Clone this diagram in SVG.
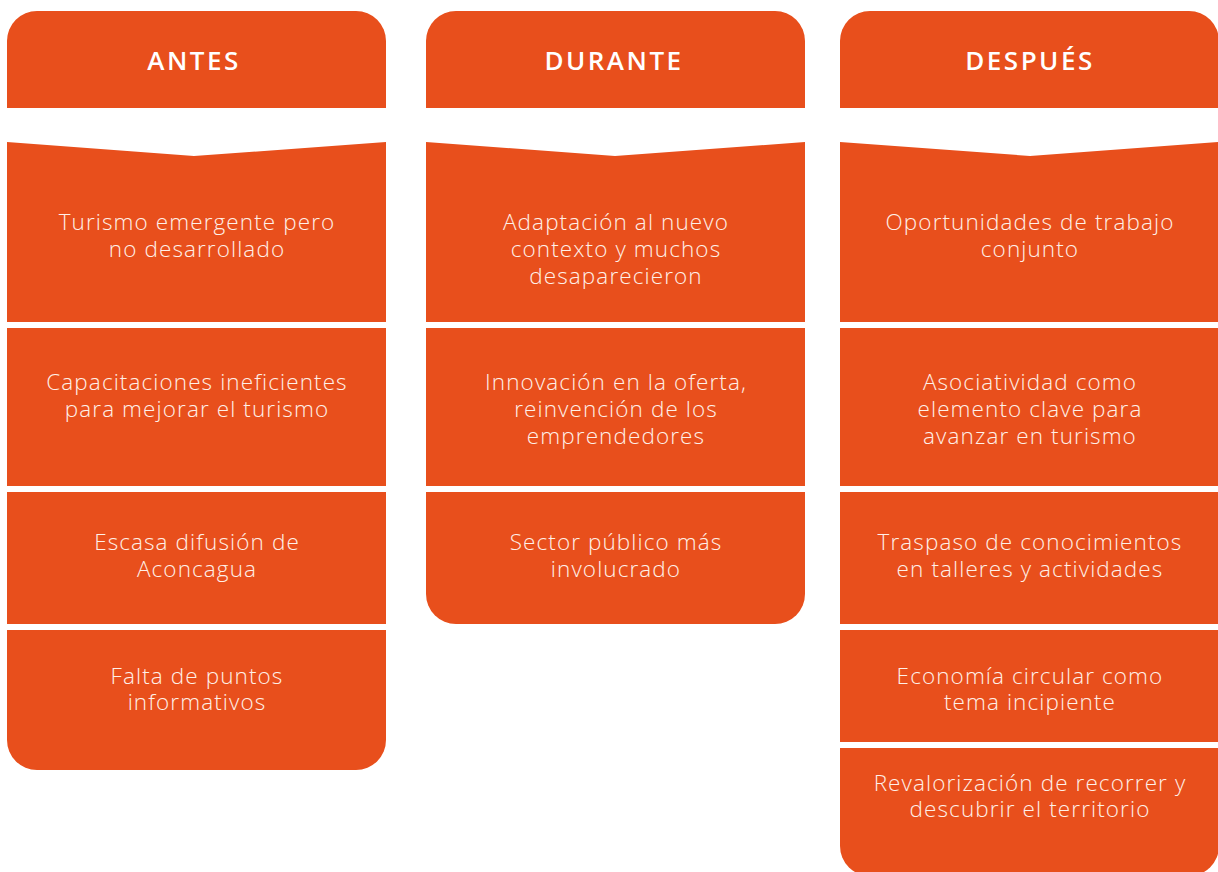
<svg xmlns="http://www.w3.org/2000/svg" width="1218" height="872" viewBox="0 0 1218 872">
<style>
.b{fill:#E84F1C}
.h{font-family:"Open Sans","Liberation Sans",sans-serif;font-weight:600;font-size:26px;fill:#FFFFFF;text-anchor:middle;letter-spacing:2.5px}
.t{font-family:"Open Sans","Liberation Sans",sans-serif;font-weight:300;font-size:22.5px;fill:#FFF0E8;text-anchor:middle;letter-spacing:1.1px}
</style>
<rect width="1218" height="872" fill="#FFFFFF"/>
<g id="antes">
<g id="antes-header"><path class="b" d="M7,108 V41 A30,30 0 0 1 37,11 H356 A30,30 0 0 1 386,41 V108 Z"/><text class="h" x="194" y="70">ANTES</text></g>
<g id="antes-1"><path class="b" d="M7,142 L194,156 L386,142 V322 H7 Z"/><text class="t" x="197" y="230">Turismo emergente pero</text><text class="t" x="197" y="257">no desarrollado</text></g>
<g id="antes-2"><rect class="b" x="7" y="328" width="379" height="158"/><text class="t" x="197" y="390">Capacitaciones ineficientes</text><text class="t" x="197" y="417">para mejorar el turismo</text></g>
<g id="antes-3"><rect class="b" x="7" y="492" width="379" height="132"/><text class="t" x="197" y="550">Escasa difusión de</text><text class="t" x="197" y="577">Aconcagua</text></g>
<g id="antes-4"><path class="b" d="M7,630 H386 V740 A30,30 0 0 1 356,770 H37 A30,30 0 0 1 7,740 Z"/><text class="t" x="197" y="684">Falta de puntos</text><text class="t" x="197" y="710">informativos</text></g>
</g>
<g id="durante">
<g id="durante-header"><path class="b" d="M426,108 V41 A30,30 0 0 1 456,11 H775 A30,30 0 0 1 805,41 V108 Z"/><text class="h" x="614" y="70">DURANTE</text></g>
<g id="durante-1"><path class="b" d="M426,142 L615,156 L805,142 V322 H426 Z"/><text class="t" x="616" y="230">Adaptación al nuevo</text><text class="t" x="616" y="257">contexto y muchos</text><text class="t" x="616" y="284">desaparecieron</text></g>
<g id="durante-2"><rect class="b" x="426" y="328" width="379" height="158"/><text class="t" x="616" y="390">Innovación en la oferta,</text><text class="t" x="616" y="417">reinvención de los</text><text class="t" x="616" y="444">emprendedores</text></g>
<g id="durante-3"><path class="b" d="M426,492 H805 V594 A30,30 0 0 1 775,624 H456 A30,30 0 0 1 426,594 Z"/><text class="t" x="616" y="550">Sector público más</text><text class="t" x="616" y="577">involucrado</text></g>
</g>
<g id="despues">
<g id="despues-header"><path class="b" d="M840,108 V41 A30,30 0 0 1 870,11 H1189 A30,30 0 0 1 1219,41 V108 Z"/><text class="h" x="1030" y="70">DESPUÉS</text></g>
<g id="despues-1"><path class="b" d="M840,142 L1030,156 L1219,142 V322 H840 Z"/><text class="t" x="1030" y="230">Oportunidades de trabajo</text><text class="t" x="1030" y="257">conjunto</text></g>
<g id="despues-2"><rect class="b" x="840" y="328" width="379" height="158"/><text class="t" x="1030" y="390">Asociatividad como</text><text class="t" x="1030" y="417">elemento clave para</text><text class="t" x="1030" y="444">avanzar en turismo</text></g>
<g id="despues-3"><rect class="b" x="840" y="492" width="379" height="132"/><text class="t" x="1030" y="550">Traspaso de conocimientos</text><text class="t" x="1030" y="577">en talleres y actividades</text></g>
<g id="despues-4"><rect class="b" x="840" y="630" width="379" height="112"/><text class="t" x="1030" y="684">Economía circular como</text><text class="t" x="1030" y="710">tema incipiente</text></g>
<g id="despues-5"><path class="b" d="M840,748 H1219 V846 A30,30 0 0 1 1189,876 H870 A30,30 0 0 1 840,846 Z"/><text class="t" x="1030" y="791">Revalorización de recorrer y</text><text class="t" x="1030" y="817">descubrir el territorio</text></g>
</g>
<g id="connectors"/>
</svg>
